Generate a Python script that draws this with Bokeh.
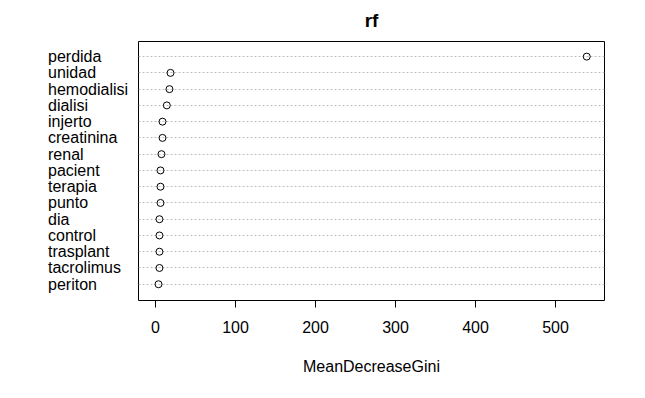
from bokeh.plotting import figure
from bokeh.layouts import row, column
from bokeh.models import ColumnDataSource, Range1d, FixedTicker
from bokeh.core.properties import value
from bokeh.embed import file_html
from bokeh.resources import INLINE

title_text = "rf"
features = ["perdida", "unidad", "hemodialisi", "dialisi", "injerto", "creatinina",
            "renal", "pacient", "terapia", "punto", "dia", "control", "trasplant",
            "tacrolimus", "periton"]
gini = [539.0, 18.8, 17.5, 14.2, 8.8, 8.8, 7.5, 6.3, 6.3, 6.3, 5.0, 5.0, 5.0, 5.0, 3.8]
x_ticks = [0, 100, 200, 300, 400, 500]

n = len(features)
ypos = list(range(n, 0, -1))

W, H = 645, 398
left, right, top, bottom = 138, 41, 41, 98
yr = Range1d(0, 15.93)


def bare(fig):
    fig.axis.visible = False
    fig.grid.visible = False
    fig.outline_line_color = None
    fig.background_fill_color = "white"
    fig.border_fill_color = "white"


# title strip
tf = figure(width=W, height=top, output_backend="svg", toolbar_location=None,
            x_range=Range1d(0, W), y_range=Range1d(0, top),
            min_border=0)
bare(tf)
tf.text(x=[(left + W - right) / 2], y=[top - 19.5], text=[title_text], text_align="center",
        text_baseline="alphabetic", text_font=value("Liberation Sans"),
        text_font_size="19px", text_font_style="bold", text_color="black")

src = ColumnDataSource(dict(x=gini, y=ypos, name=features, lx=[47.5] * n))

# left panel with the category labels
lp = figure(width=left, height=H - top, output_backend="svg", toolbar_location=None,
            x_range=Range1d(0, left), y_range=yr,
            min_border_left=0, min_border_right=0,
            min_border_top=0, min_border_bottom=bottom)
bare(lp)
lp.text("lx", "y", text="name", source=src, text_align="left", text_baseline="middle",
        text_font=value("Liberation Sans"), text_font_size="16px", text_color="black")

p = figure(width=W - left, height=H - top, output_backend="svg", toolbar_location=None,
           x_range=Range1d(-21.2, 561.2), y_range=yr,
           min_border_left=0, min_border_right=right,
           min_border_top=0, min_border_bottom=bottom)
p.background_fill_color = "white"
p.border_fill_color = "white"
p.outline_line_color = "black"
p.outline_line_width = 1

p.yaxis.visible = False
p.ygrid.ticker = FixedTicker(ticks=ypos)
p.ygrid.grid_line_color = "#bebebe"
p.ygrid.grid_line_dash = "2 2"
p.xgrid.visible = False

xa = p.xaxis[0]
xa.ticker = FixedTicker(ticks=x_ticks)
xa.axis_line_color = None
xa.major_tick_in = 0
xa.major_tick_out = 7
xa.minor_tick_line_color = None
xa.major_tick_line_color = "black"
xa.major_label_text_font = "Liberation Sans"
xa.major_label_text_font_size = "16px"
xa.major_label_text_color = "black"
xa.major_label_standoff = 13
xa.axis_label = "MeanDecreaseGini"
xa.axis_label_text_font = "Liberation Sans"
xa.axis_label_text_font_size = "16px"
xa.axis_label_text_font_style = "normal"
xa.axis_label_text_color = "black"
xa.axis_label_standoff = 22

p.scatter("x", "y", source=src, size=7, fill_color=None, line_color="black", line_width=1)

layout = column(tf, row(lp, p, spacing=0), spacing=0)
open("out.html", "w").write(file_html(layout, INLINE))
